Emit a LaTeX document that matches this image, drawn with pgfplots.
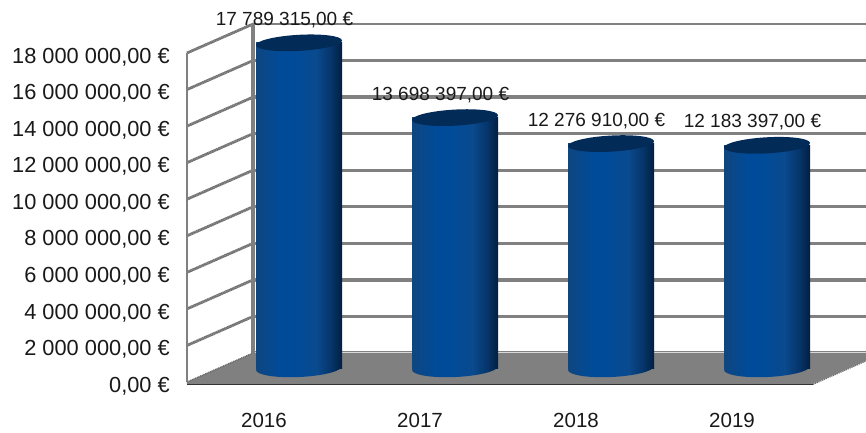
\documentclass[border=0pt]{standalone}
\usepackage{fontspec}
\setmainfont{Liberation Sans}
\usepackage{pgfplots}
\pgfplotsset{compat=1.18}
\definecolor{gridg}{HTML}{808080}
\definecolor{capc}{HTML}{032B57}
\definecolor{cA}{HTML}{0F4680}
\definecolor{cB}{HTML}{004B99}
\definecolor{cC}{HTML}{0A4A8E}
\definecolor{cD}{HTML}{06356A}
\definecolor{cE}{HTML}{021F40}
\pgfdeclarehorizontalshading{cyl}{100bp}{
 color(0bp)=(cA);
 color(25bp)=(cA);
 color(39bp)=(cB);
 color(47bp)=(cB);
 color(60bp)=(cC);
 color(68.5bp)=(cD);
 color(75bp)=(cE);
 color(100bp)=(cE)}
\pgfdeclareplotmark{captop}{%
  \pgfpathellipse{\pgfpointorigin}{\pgfqpoint{43pt}{2.5pt}}{\pgfqpoint{-1pt}{8pt}}%
  \pgfsetfillcolor{capc}\pgfusepathqfill}
\pgfdeclareplotmark{capbot}{%
  \pgfpathellipse{\pgfpointorigin}{\pgfqpoint{43pt}{2.0pt}}{\pgfqpoint{-0.5pt}{9pt}}%
  \pgfshadepath{cyl}{0}\pgfusepath{discard}}
\pgfplotsset{cylbar/.style={ybar,bar width=86pt,bar shift=0pt,draw=none,shade,shading=cyl,xshift=35pt,yshift=14pt,forget plot}}
\begin{document}
\begin{tikzpicture}[x=1pt,y=1pt]
\useasboundingbox (-187pt,-50pt) rectangle (679pt,382pt);
\begin{axis}[
  at={(0pt,0pt)},anchor=south west,
  scale only axis,width=626pt,height=329pt,
  xmin=-0.4936,xmax=3.5192,ymin=0,ymax=18000000,
  clip=false,
  scaled y ticks=false,
  axis line style={draw=none},
  tick style={draw=none},
  major tick length=0pt,
  xtick={0,1,2,3},xticklabels={2016,2017,2018,2019},
  ytick={0,2000000,4000000,6000000,8000000,10000000,12000000,14000000,16000000,18000000},
  yticklabels={{0,00 €},{2 000 000,00 €},{4 000 000,00 €},{6 000 000,00 €},{8 000 000,00 €},{10 000 000,00 €},{12 000 000,00 €},{14 000 000,00 €},{16 000 000,00 €},{18 000 000,00 €}},
  yticklabel style={font=\fontsize{21.8}{23}\selectfont,inner sep=0pt,anchor=east,xshift=-17pt,yshift=-4pt,text=black!90},
  xticklabel style={font=\fontsize{20.5}{22}\selectfont,inner sep=0pt,anchor=center,yshift=-38pt,text=black!90},
]
% back wall horizontals
\addplot[gridg,line width=3.4pt,yshift=29pt,forget plot,unbounded coords=jump] table {
-0.0705 0
3.859 0
nan nan
-0.0705 2000000
3.859 2000000
nan nan
-0.0705 4000000
3.859 4000000
nan nan
-0.0705 6000000
3.859 6000000
nan nan
-0.0705 8000000
3.859 8000000
nan nan
-0.0705 10000000
3.859 10000000
nan nan
-0.0705 12000000
3.859 12000000
nan nan
-0.0705 14000000
3.859 14000000
nan nan
-0.0705 16000000
3.859 16000000
};
\addplot[gridg,line width=2.4pt,yshift=29pt,forget plot] table {
-0.0705 18000000
3.859 18000000
};
% floor
\addplot[fill=gridg,draw=none,forget plot] table {
-0.4936 0
-0.0705 1586000
3.859 1586000
3.859 1170000
3.5192 -110000
-0.4936 -110000
-0.4936 0
};
\addplot[black!15,line width=1pt,yshift=29.8pt,forget plot] table {
-0.0705 0
3.859 0
};
\addplot[black!80,line width=1.8pt,yshift=-2.4pt,forget plot] table {
-0.4936 0
3.5192 0
};
\addplot[black!55,line width=1.2pt,dash pattern=on 1.2pt off 0.8pt,forget plot] table {
3.5192 -130000
3.859 1150000
};
% side wall
\addplot[black!55,line width=2.8pt,dash pattern=on 1.3pt off 0.4pt,forget plot,unbounded coords=jump] table {
-0.4936 2000000
-0.0705 3586000
nan nan
-0.4936 4000000
-0.0705 5586000
nan nan
-0.4936 6000000
-0.0705 7586000
nan nan
-0.4936 8000000
-0.0705 9586000
nan nan
-0.4936 10000000
-0.0705 11586000
nan nan
-0.4936 12000000
-0.0705 13586000
nan nan
-0.4936 14000000
-0.0705 15586000
nan nan
-0.4936 16000000
-0.0705 17586000
nan nan
-0.4936 18000000
-0.0705 19586000
};
\addplot[black!60,line width=1.4pt,dash pattern=on 1pt off 0.8pt,forget plot] table {
-0.4936 0
-0.0705 1586000
};
\addplot[gridg,line width=1.6pt,forget plot] table {
-0.4936 0
-0.4936 18000000
};
\addplot[gridg,line width=3.4pt,yshift=29pt,forget plot] table {
-0.0705 0
-0.0705 18000000
};
% cylinders
\addplot[only marks,mark=capbot,xshift=35pt,yshift=14pt,forget plot] table {
0 0
1 0
2 0
3 0
};
\addplot[cylbar] table {
0 17789315
};
\addplot[cylbar] table {
1 13698397
};
\addplot[cylbar] table {
2 12276910
};
\addplot[cylbar] table {
3 12183397
};
\addplot[only marks,mark=captop,xshift=35pt,yshift=14pt,forget plot,
  point meta=explicit symbolic,
  nodes near coords,
  nodes near coords style={font=\fontsize{19}{20}\selectfont,text=black!90,inner sep=0pt,anchor=center,xshift=-14.5pt,yshift=23pt},
] table[meta=lab,col sep=semicolon] {
x;y;lab
0;17789315;17 789 315,00 €
1;13698397;13 698 397,00 €
2;12276910;12 276 910,00 €
3;12183397;12 183 397,00 €
};
\end{axis}
\end{tikzpicture}
\end{document}
